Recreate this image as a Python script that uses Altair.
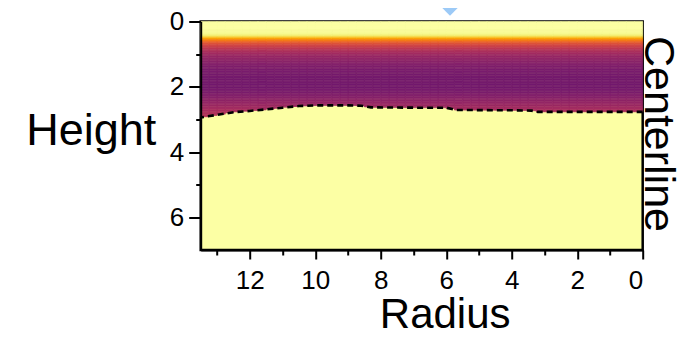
import altair as alt
import numpy as np
import pandas as pd

FONT = "Liberation Sans"

# axis ticks
radius_major = [0, 2, 4, 6, 8, 10, 12]
radius_minor = [1, 3, 5, 7, 9, 11, 13]
height_major = [0, 2, 4, 6]
height_minor = [1, 3, 5]

# dashed boundary line (radius, height)
bound_r = [13.5, 13.0, 12.5, 12.0, 11.5, 11.0, 10.5, 10.0, 9.0, 8.6, 8.3, 7.0, 6.0, 5.7, 4.0, 3.4, 3.2, 0.0]
bound_h = [2.94, 2.86, 2.78, 2.74, 2.69, 2.64, 2.59, 2.57, 2.57, 2.58, 2.63, 2.64, 2.64, 2.71, 2.72, 2.73, 2.77, 2.77]

# vertical colour profile above the boundary (height step 0.05), value on inferno 0..1
profile_v = [1.00, 1.00, 1.00, 1.00, 1.00, 0.99, 0.99, 0.98, 0.96, 0.90,
             0.80, 0.72, 0.66, 0.61, 0.57, 0.54, 0.51, 0.48, 0.46, 0.44,
             0.42, 0.41, 0.40, 0.39, 0.38, 0.37, 0.36, 0.35, 0.35, 0.34,
             0.34, 0.33, 0.33, 0.33, 0.32, 0.32, 0.32, 0.32, 0.32, 0.32,
             0.32, 0.33, 0.33, 0.34, 0.35, 0.36, 0.37, 0.38, 0.39, 0.40,
             0.41, 0.42, 0.43, 0.44, 0.45, 0.46, 0.47, 0.48, 0.48, 0.49]
ROW = 0.05
COL = 0.25

# build the heat-map cells from the profile and the boundary
br = np.array(bound_r[::-1])
bh = np.array(bound_h[::-1])
cells = []
ncol = int(round(13.5 / COL))
for c in range(ncol):
    r0 = c * COL
    r1 = r0 + COL
    b = float(np.interp((r0 + r1) / 2, br, bh))
    for i, v in enumerate(profile_v):
        h0 = i * ROW
        if h0 >= b:
            break
        h1 = min(h0 + ROW, b)
        cells.append({"r0": r0, "r1": r1, "h0": h0, "h1": h1, "v": v})
cells_df = pd.DataFrame(cells)
line_df = pd.DataFrame({"r": bound_r, "h": bound_h})

W, H = 442, 228.5
PAD_L, PAD_T = 192.7, 13.5
TOTAL_W, TOTAL_H = 671, 320

xscale = alt.Scale(domain=[0, 13.5], reverse=True, nice=False, zero=False)
yscale = alt.Scale(domain=[0, 7], reverse=True, nice=False, zero=False)
cscale = alt.Scale(scheme="inferno", domain=[0, 1])

heat = alt.Chart(cells_df).mark_rect(strokeWidth=0.6).encode(
    x=alt.X("r0:Q", scale=xscale, axis=alt.Axis(
        values=radius_major, tickSize=9, tickWidth=2, tickColor="black",
        domainColor="black", domainWidth=2, labelFontSize=26, labelFont=FONT,
        labelColor="black", labelPadding=8, grid=False, orient="bottom",
        title="Radius", titleFontSize=42, titleFont=FONT, titleFontWeight="normal",
        titleColor="black", titleX=244, titleY=77, titleAlign="center",
        titleBaseline="alphabetic", zindex=2)),
    x2="r1:Q",
    y=alt.Y("h0:Q", scale=yscale, axis=alt.Axis(
        values=height_major, tickSize=12, tickWidth=2, tickColor="black",
        domainColor="black", domainWidth=2, labelFontSize=26, labelFont=FONT,
        labelColor="black", labelPadding=5, grid=False, orient="left",
        title="Height", titleAngle=0, titleFontSize=45, titleFont=FONT,
        titleFontWeight="normal", titleColor="black", titleX=-110, titleY=122.5,
        titleAlign="center", titleBaseline="alphabetic", zindex=2)),
    y2="h1:Q",
    color=alt.Color("v:Q", scale=cscale, legend=None),
    stroke=alt.Stroke("v:Q", scale=cscale, legend=None),
)

line = alt.Chart(line_df).mark_line(
    color="black", strokeWidth=2.6, strokeDash=[6, 4]
).encode(
    x=alt.X("r:Q", scale=xscale, axis=alt.Axis(
        values=radius_minor, labels=False, domain=False, tickSize=5, tickWidth=2,
        tickColor="black", grid=False, title=None, orient="bottom", zindex=2)),
    y=alt.Y("h:Q", scale=yscale, axis=alt.Axis(
        values=height_minor, labels=False, domain=False, tickSize=5, tickWidth=2,
        tickColor="black", grid=False, title=None, orient="left", zindex=2)),
    order="r:Q",
)

label_df = pd.DataFrame({"t": ["Centerline"]})
centerline = alt.Chart(label_df).mark_text(
    angle=90, fontSize=43, font=FONT, align="center", baseline="alphabetic", color="black"
).encode(x=alt.value(444.5), y=alt.value(112.5), text="t:N")

arrow = alt.Chart(label_df).mark_point(
    shape="M-1,-1L1,-1L0,0Z", filled=True, size=900, color="#9ccaf7", opacity=1, strokeWidth=0
).encode(x=alt.value(249.3), y=alt.value(-5.8))

chart = alt.layer(heat, line, centerline, arrow).resolve_scale(
    x="independent", y="independent"
).properties(
    width=W, height=H,
    autosize=alt.AutoSizeParams(type="none"),
    padding={"left": PAD_L, "top": PAD_T, "right": TOTAL_W - PAD_L - W, "bottom": TOTAL_H - PAD_T - H},
).configure_view(
    fill="#fcffa4", stroke="black", strokeWidth=2.5
)

chart.save("out.html", embed_options={"renderer": "svg", "actions": False})
